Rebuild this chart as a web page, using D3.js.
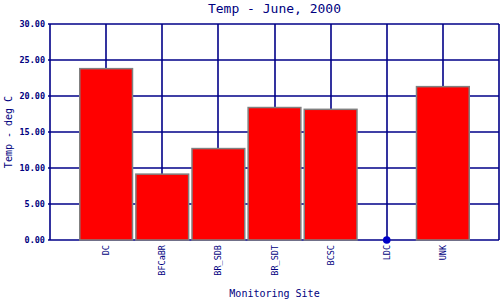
<!DOCTYPE html>
<html>
<head>
<meta charset="utf-8">
<script src="https://cdn.jsdelivr.net/npm/d3@7"></script>
<style>
  body { margin: 0; background: #fff; }
  svg { display: block; }
  text { font-family: "DejaVu Sans Mono", "Liberation Mono", monospace; fill: #000080; }
</style>
</head>
<body>
<svg id="chart" width="500" height="300"></svg>
<script>
// chart data
const sites = ['DC', 'BFCaBR', 'BR_SDB', 'BR_SDT', 'BCSC', 'LDC', 'UNK'];
const temps = [23.8, 9.15, 12.7, 18.4, 18.15, 0, 21.3];
const yTicks = [0, 5, 10, 15, 20, 25, 30];

const plotL = 50, plotR = 499, plotT = 24, plotB = 240;
const navy = '#000088';

const svg = d3.select('#chart');

const x = d3.scalePoint()
    .domain(sites)
    .range([plotL, plotR])
    .padding(1);
const y = d3.scaleLinear()
    .domain([0, 30])
    .range([plotB, plotT]);

const barW = x.step() * 0.94;

// horizontal grid
svg.append('g')
    .selectAll('line')
    .data(yTicks)
    .join('line')
    .attr('x1', plotL - 2)
    .attr('x2', plotR)
    .attr('y1', d => Math.round(y(d)))
    .attr('y2', d => Math.round(y(d)))
    .attr('stroke', navy)
    .attr('stroke-width', 1.6);

// vertical grid at each site
svg.append('g')
    .selectAll('line')
    .data(sites)
    .join('line')
    .attr('x1', d => Math.round(x(d)))
    .attr('x2', d => Math.round(x(d)))
    .attr('y1', plotT)
    .attr('y2', plotB)
    .attr('stroke', navy)
    .attr('stroke-width', 1.6);

// frame sides
svg.append('g')
    .selectAll('line')
    .data([plotL, plotR])
    .join('line')
    .attr('x1', d => d)
    .attr('x2', d => d)
    .attr('y1', plotT)
    .attr('y2', plotB)
    .attr('stroke', navy)
    .attr('stroke-width', 1.6);

// bars
const data = sites.map((s, i) => ({ site: s, v: temps[i] }));
svg.append('g')
    .selectAll('rect')
    .data(data.filter(d => d.v > 0))
    .join('rect')
    .attr('x', d => x(d.site) - barW / 2)
    .attr('width', barW)
    .attr('y', d => y(d.v))
    .attr('height', d => y(0) - y(d.v))
    .attr('fill', '#ff0000')
    .attr('stroke', '#808080')
    .attr('stroke-width', 1.5);

// zero value marker
svg.append('g')
    .selectAll('circle')
    .data(data.filter(d => d.v === 0))
    .join('circle')
    .attr('cx', d => x(d.site))
    .attr('cy', d => y(d.v))
    .attr('r', 3.8)
    .attr('fill', '#0000c8');

// y tick labels
svg.append('g')
    .selectAll('text')
    .data(yTicks)
    .join('text')
    .attr('x', 45)
    .attr('y', d => y(d) + 3)
    .attr('text-anchor', 'end')
    .style('font-size', '8.5px')
    .style('font-weight', 'bold')
    .text(d => d3.format('.2f')(d));

// x tick labels, rotated
svg.append('g')
    .selectAll('text')
    .data(sites)
    .join('text')
    .attr('transform', d => `translate(${x(d) + 3},245) rotate(-90)`)
    .attr('text-anchor', 'end')
    .style('font-size', '8.5px')
    .text(d => d);

// titles
svg.append('text')
    .attr('x', (plotL + plotR) / 2)
    .attr('y', 13)
    .attr('text-anchor', 'middle')
    .style('font-size', '13px')
    .text('Temp - June, 2000');

svg.append('text')
    .attr('x', (plotL + plotR) / 2)
    .attr('y', 297)
    .attr('text-anchor', 'middle')
    .style('font-size', '10px')
    .text('Monitoring Site');

svg.append('text')
    .attr('transform', `translate(12,${(plotT + plotB) / 2}) rotate(-90)`)
    .attr('text-anchor', 'middle')
    .style('font-size', '10px')
    .text('Temp - deg C');
</script>
</body>
</html>
